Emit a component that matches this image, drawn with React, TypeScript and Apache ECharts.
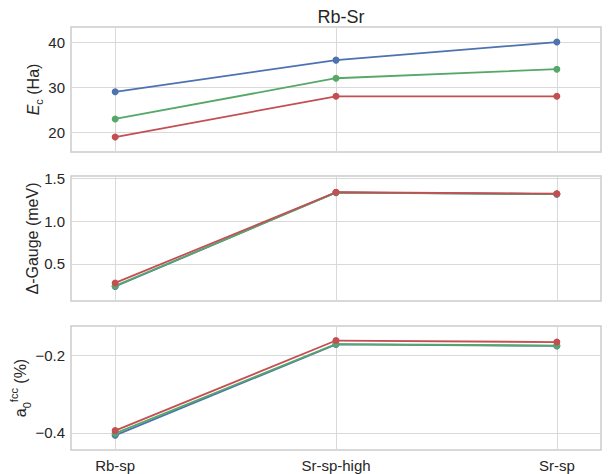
import React, { useEffect, useRef } from "react";
import * as echarts from "echarts";

const categories = ["Rb-sp", "Sr-sp-high", "Sr-sp"];

const ecBlue = [29, 36, 40];
const ecGreen = [23, 32, 34];
const ecRed = [19, 28, 28];

const gaugeBlue = [0.235, 1.335, 1.315];
const gaugeGreen = [0.242, 1.333, 1.316];
const gaugeRed = [0.277, 1.337, 1.32];

const a0Blue = [-0.406, -0.172, -0.176];
const a0Green = [-0.401, -0.171, -0.175];
const a0Red = [-0.394, -0.162, -0.166];

const ecTicks = [20, 30, 40];
const gaugeTicks = [0.5, 1.0, 1.5];
const a0Ticks = [-0.4, -0.2];

const BLUE = "#4C72B0";
const GREEN = "#55A868";
const RED = "#C44E52";
const TXT = "#262626";
const FONT = "Liberation Sans, Arial, sans-serif";

const xIdx = categories.map((_, i) => i);

function pts(vals: number[]) {
  return vals.map((v, i) => [xIdx[i], v]);
}

function fmtNum(v: number, dec: number) {
  const s = Math.abs(v).toFixed(dec);
  return v < 0 ? "\u2212" + s : s;
}

export default function App() {
  const ref = useRef<HTMLDivElement>(null);
  useEffect(() => {
    if (!ref.current) return;
    const chart = echarts.init(ref.current, undefined, { renderer: "svg" });
    const grids = [
      { left: 71, top: 27, width: 530, height: 125 },
      { left: 71, top: 176, width: 530, height: 125 },
      { left: 71, top: 326, width: 530, height: 124 },
    ].map((g) => ({
      ...g,
      show: true,
      borderColor: "#cccccc",
      borderWidth: 1.5,
      backgroundColor: "#ffffff",
    }));

    const xAxes = [0, 1, 2].map((gi) => ({
      type: "value",
      gridIndex: gi,
      min: -0.2,
      max: 2.2,
      axisLine: { show: false },
      axisTick: { show: false, customValues: xIdx },
      splitLine: { show: true, lineStyle: { color: "#d9d9d9", width: 1 } },
      axisLabel: {
        show: gi === 2,
        customValues: xIdx,
        formatter: (v: number) => categories[Math.round(v)],
        color: TXT,
        fontSize: 15,
        fontFamily: FONT,
        margin: 8,
      },
    }));

    const yCommon = (gi: number, min: number, max: number, ticks: number[], dec: number, name: string, nameGap: number, rich: any) => ({
      type: "value",
      gridIndex: gi,
      min,
      max,
      axisLine: { show: false },
      axisTick: { show: false, customValues: ticks },
      splitLine: { show: true, lineStyle: { color: "#d9d9d9", width: 1 } },
      axisLabel: {
        customValues: ticks,
        formatter: (v: number) => fmtNum(v, dec),
        color: TXT,
        fontSize: 15,
        fontFamily: FONT,
        margin: 6,
      },
      name,
      nameLocation: "middle",
      nameRotate: 90,
      nameGap,
      nameMoveOverlap: false,
      nameTextStyle: { color: TXT, fontSize: 16, fontFamily: FONT, rich },
    });

    const richBase = { color: TXT, fontFamily: FONT };
    const yAxes = [
      yCommon(0, 15.69, 43.33, ecTicks, 0, "{i|E}{sub|c}{n| (Ha)}", 27, {
        i: { ...richBase, fontSize: 16, fontStyle: "italic", lineHeight: 22 },
        sub: { ...richBase, fontSize: 11, lineHeight: 11, verticalAlign: "bottom" },
        n: { ...richBase, fontSize: 16, lineHeight: 22 },
      }),
      yCommon(1, 0.066, 1.527, gaugeTicks, 1, "Δ-Gauge (meV)", 31, {}),
      yCommon(2, -0.4438, -0.1246, a0Ticks, 1, "{n|a}{sub|0}{sup|fcc}{n| (%)}", 39, {
        n: { ...richBase, fontSize: 16, lineHeight: 24 },
        sub: { ...richBase, fontSize: 11, lineHeight: 11, verticalAlign: "bottom" },
        sup: { ...richBase, fontSize: 11, lineHeight: 11, verticalAlign: "top" },
      }),
    ];

    const mk = (gi: number, data: number[], color: string) => ({
      type: "line",
      xAxisIndex: gi,
      yAxisIndex: gi,
      data: pts(data),
      symbol: "circle",
      symbolSize: 7,
      showSymbol: true,
      itemStyle: { color },
      lineStyle: { color, width: 1.8 },
      z: 3,
    });

    const series = [
      mk(0, ecBlue, BLUE),
      mk(0, ecGreen, GREEN),
      mk(0, ecRed, RED),
      mk(1, gaugeBlue, BLUE),
      mk(1, gaugeGreen, GREEN),
      mk(1, gaugeRed, RED),
      mk(2, a0Blue, BLUE),
      mk(2, a0Green, GREEN),
      mk(2, a0Red, RED),
    ];

    chart.setOption({
      animation: false,
      backgroundColor: "#ffffff",
      title: {
        text: "Rb-Sr",
        left: 336,
        top: 3,
        textAlign: "center",
        textStyle: { color: TXT, fontSize: 18, fontWeight: "normal", fontFamily: FONT },
      },
      grid: grids,
      xAxis: xAxes,
      yAxis: yAxes,
      series,
    });
    return () => chart.dispose();
  }, []);
  return (
    <div
      ref={ref}
      style={{ position: "fixed", left: 0, top: 0, width: 616, height: 474 }}
    />
  );
}
